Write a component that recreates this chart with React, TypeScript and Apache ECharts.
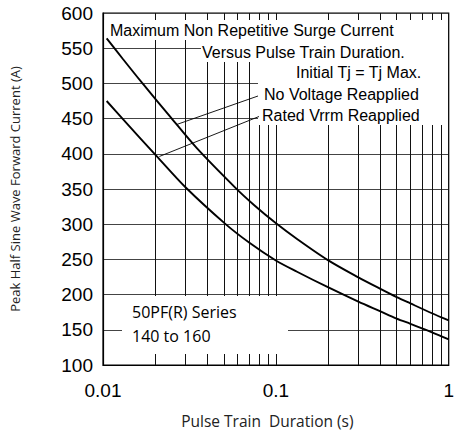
import React, { useEffect, useRef } from 'react';
import * as echarts from 'echarts';

// Axis ranges / ticks
const X_MIN = 0.01;
const X_MAX = 1;
const Y_MIN = 100;
const Y_MAX = 600;
const Y_STEP = 50;
const MINOR_X = [0.02, 0.03, 0.04, 0.05, 0.06, 0.07, 0.08, 0.09, 0.2, 0.3, 0.4, 0.5, 0.6, 0.7, 0.8, 0.9];

// Curve: No Voltage Reapplied (upper)
const NO_VOLTAGE_X = [0.0105, 0.013, 0.0168, 0.0248, 0.0349, 0.0582, 0.075, 0.0994, 0.1326, 0.2, 0.3, 0.4, 0.5, 0.6, 0.8, 1];
const NO_VOLTAGE_Y = [564, 535, 501, 451, 408, 352, 327, 302, 279, 249, 224.5, 208.5, 196.5, 187.5, 173.5, 163.3];

// Curve: Rated Vrrm Reapplied (lower)
const RATED_X = [0.0105, 0.013, 0.0203, 0.03, 0.051, 0.07, 0.1, 0.1326, 0.2, 0.3, 0.4, 0.5, 0.6, 0.8, 1];
const RATED_Y = [475, 449.5, 397.5, 352.5, 300.5, 274, 248.5, 232.5, 210.5, 190, 176.5, 166, 158.5, 146.5, 136.5];

// Texts
const TITLE_LINES = [
  'Maximum Non Repetitive Surge Current',
  'Versus Pulse Train Duration.',
  'Initial Tj = Tj Max.',
];
const LEGEND_LABELS = ['No Voltage Reapplied', 'Rated Vrrm Reapplied'];
const SERIES_NOTE = ['50PF(R) Series', '140 to 160'];
const X_NAME = 'Pulse Train  Duration (s)';
const Y_NAME = 'Peak Half Sine Wave Forward Current (A)';

const zip = (xs: number[], ys: number[]) => xs.map((x, i) => [x, ys[i]]);

export default function App() {
  const ref = useRef<HTMLDivElement>(null);

  useEffect(() => {
    if (!ref.current) return;
    const chart = echarts.init(ref.current, null, { renderer: 'svg' });
    const sans = 'Liberation Sans, Arial, Helvetica, sans-serif';
    const human = '"Open Sans", "Noto Sans", sans-serif';
    const txt = (text: string, x: number, y: number, font: string, size: number) => ({
      type: 'text',
      x,
      y,
      z: 14,
      style: { text, fontFamily: font, fontSize: size, fill: '#000', align: 'left', verticalAlign: 'middle' },
    });
    const rect = (x: number, y: number, w: number, h: number) => ({
      type: 'rect',
      z: 10,
      shape: { x, y, width: w, height: h },
      style: { fill: '#fff' },
    });
    const leader = (x1: number, y1: number, x2: number, y2: number) => ({
      type: 'line',
      z: 13,
      shape: { x1, y1, x2, y2 },
      style: { stroke: '#000', lineWidth: 0.9 },
    });

    chart.setOption({
      animation: false,
      backgroundColor: '#fff',
      grid: {
        left: 103,
        right: 5,
        top: 13,
        bottom: 69,
        show: true,
        borderColor: '#000',
        borderWidth: 1.2,
        backgroundColor: 'transparent',
      },
      xAxis: {
        type: 'log',
        logBase: 10,
        min: X_MIN,
        max: X_MAX,
        name: X_NAME,
        nameLocation: 'middle',
        nameGap: 48,
        nameTextStyle: { fontFamily: human, fontSize: 15.5, color: '#222', padding: [0, 17, 0, 0] },
        axisLine: { show: true, lineStyle: { color: '#000', width: 1.2 } },
        axisTick: { show: false },
        axisLabel: {
          fontFamily: sans,
          fontSize: 19,
          color: '#000',
          margin: 16,
          formatter: (v: number) => String(+v.toPrecision(2)),
        },
        splitLine: { show: true, lineStyle: { color: '#111', width: 1 } },
      },
      yAxis: {
        type: 'value',
        min: Y_MIN,
        max: Y_MAX,
        interval: Y_STEP,
        name: Y_NAME,
        nameLocation: 'middle',
        nameGap: 82,
        nameTextStyle: { fontFamily: human, fontSize: 13, color: '#222' },
        axisLine: { show: true, lineStyle: { color: '#000', width: 1.2 } },
        axisTick: { show: false },
        axisLabel: { fontFamily: sans, fontSize: 19, color: '#000', margin: 10 },
        splitLine: { show: true, lineStyle: { color: '#444', width: 1.2 } },
      },
      series: [
        {
          name: 'grid',
          type: 'line',
          z: 1,
          data: [],
          silent: true,
          markLine: {
            silent: true,
            symbol: 'none',
            label: { show: false },
            lineStyle: { color: '#111', width: 1, type: 'solid' },
            data: MINOR_X.map((x) => ({ xAxis: x })),
          },
        },
        {
          name: LEGEND_LABELS[0],
          type: 'line',
          z: 12,
          smooth: 0.3,
          symbol: 'none',
          lineStyle: { color: '#000', width: 1.9 },
          data: zip(NO_VOLTAGE_X, NO_VOLTAGE_Y),
        },
        {
          name: LEGEND_LABELS[1],
          type: 'line',
          z: 12,
          smooth: 0.3,
          symbol: 'none',
          lineStyle: { color: '#000', width: 1.9 },
          data: zip(RATED_X, RATED_Y),
        },
      ],
      graphic: [
        rect(104.5, 20, 343.5, 20),
        rect(201, 40, 247, 22),
        rect(258, 62, 190, 63),
        rect(122, 296, 166, 58),
        leader(258, 96, 176.7, 124.5),
        leader(259, 116.5, 159.3, 156.5),
        txt(TITLE_LINES[0], 110, 30, sans, 16),
        txt(TITLE_LINES[1], 202, 52, sans, 16),
        txt(TITLE_LINES[2], 296, 72, sans, 16),
        txt(LEGEND_LABELS[0], 264, 94, sans, 16),
        txt(LEGEND_LABELS[1], 262, 115.5, sans, 16),
        txt(SERIES_NOTE[0], 132, 312, human, 16),
        txt(SERIES_NOTE[1], 132, 336, human, 16),
      ],
    });
    return () => chart.dispose();
  }, []);

  return (
    <div
      ref={ref}
      style={{ position: 'absolute', left: 0, top: 0, width: 457, height: 434 }}
    />
  );
}
